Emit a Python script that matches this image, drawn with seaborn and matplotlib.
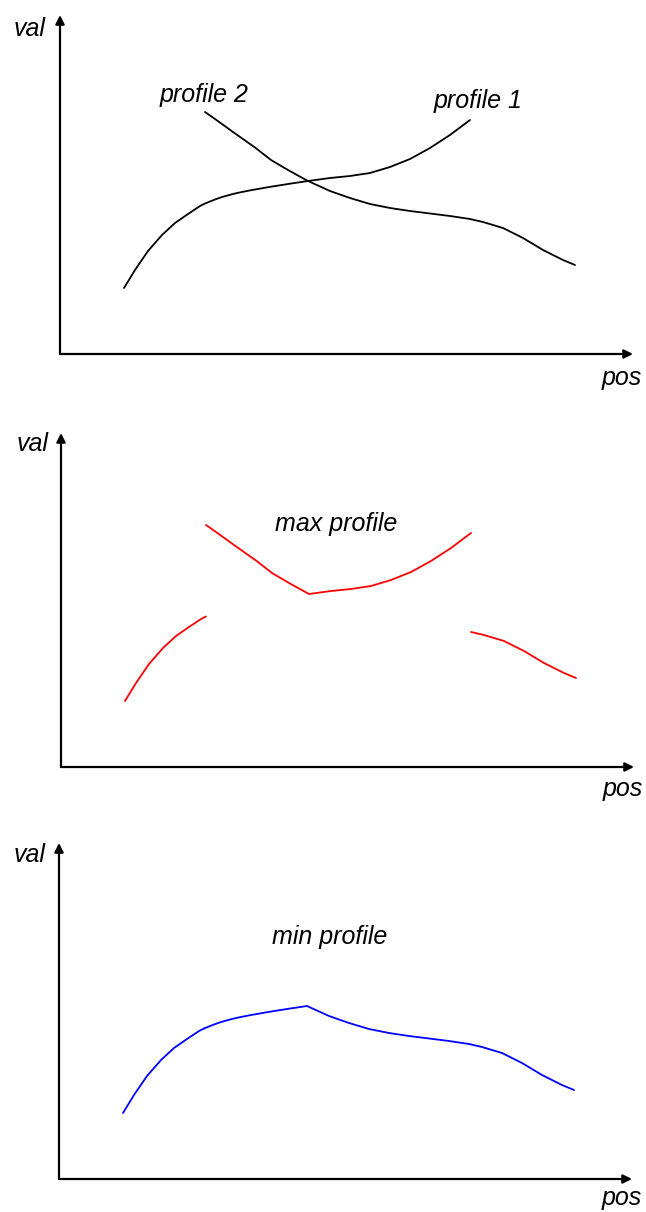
import matplotlib
matplotlib.use("Agg")
import matplotlib.pyplot as plt
import numpy as np
import pandas as pd
import seaborn as sns

# positions along the axis (pixels right of the val axis)
pos = [64, 75, 88, 102, 115, 128, 140, 145, 155, 162, 173, 178, 190, 195, 211, 228,
       248, 270, 290, 310, 330, 350, 370, 390, 410, 423, 443, 463, 483, 503, 515]

# profile values (pixels above the pos axis), NaN where a profile is undefined
profile_1 = [66, 84, 103, 119, 131, 140, 148, 150.5, 154.5, 157, 160, 161.2, 163.6, 164.5,
             167.3, 170, 173, 176, 178, 181, 187, 195, 206, 219, 234,
             np.nan, np.nan, np.nan, np.nan, np.nan, np.nan]
profile_2 = [np.nan, np.nan, np.nan, np.nan, np.nan, np.nan, np.nan,
             242, 235, 230, 222, 218.5, 210, 206.5, 194, 184,
             173, 163, 156, 150, 146, 143, 140.5, 138, 135, 132, 126, 116, 104, 94, 89]

labels_top = ["profile 2", "profile 1"]
title_max = "max profile"
title_min = "min profile"


def combined(p1, p2, how):
    """Combine two profiles into segments: only p1 / both / only p2"""
    p1, p2 = np.asarray(p1, float), np.asarray(p2, float)
    x = np.asarray(pos, float)
    both = ~np.isnan(p1) & ~np.isnan(p2)
    first, last = np.where(both)[0][[0, -1]]
    func = np.fmax if how == "max" else np.fmin
    rows = []
    for i in range(first + 1):
        rows.append((x[i], p1[i], 0))
    for i in range(first, last + 1):
        rows.append((x[i], func(p1[i], p2[i]), 1))
    for i in range(last, len(x)):
        rows.append((x[i], p2[i], 2))
    return pd.DataFrame(rows, columns=["pos", "val", "seg"])


sns.set_theme(style="white")
plt.rcParams["font.family"] = ["Liberation Sans", "DejaVu Sans"]

fig = plt.figure(figsize=(6.46, 12.12), dpi=100)

# panel layout in pixels: top row, bottom row, origin x, origin y, axis height,
# val label (x, y), pos label (x, y)
panels = [
    (0, 404, 60, 354, 339, (30, 29), (622, 378)),
    (404, 808, 61, 767, 334, (33, 444), (623, 789)),
    (808, 1212, 59, 1179, 336, (30, 855), (622, 1198)),
]
axes = []
for top, bottom, ox, oy, h, val_xy, pos_xy in panels:
    ax = fig.add_axes([0, 1 - bottom / 1212, 1, (bottom - top) / 1212])
    ax.set_xlim(-ox, 646 - ox)
    ax.set_ylim(oy - bottom, oy - top)
    ax.axis("off")
    arrow = dict(arrowstyle="-|>", lw=1.6, color="black", mutation_scale=13,
                 shrinkA=0, shrinkB=0)
    ax.annotate("", xy=(573, 0), xytext=(0, 0), arrowprops=arrow)
    ax.annotate("", xy=(0, h), xytext=(0, 0), arrowprops=arrow)
    ax.text(val_xy[0] - ox, oy - val_xy[1], "val", style="italic", fontsize=18,
            color="black", ha="center", va="center")
    ax.text(pos_xy[0] - ox, oy - pos_xy[1], "pos", style="italic", fontsize=18,
            color="black", ha="center", va="center")
    axes.append(ax)

line_kw = dict(lw=1.3, sort=False, estimator=None, solid_joinstyle="round")

# panel 1: the two profiles
df1 = pd.DataFrame({"pos": pos, "val": profile_1}).dropna()
df2 = pd.DataFrame({"pos": pos, "val": profile_2}).dropna()
sns.lineplot(data=df1, x="pos", y="val", ax=axes[0], color="black", **line_kw)
sns.lineplot(data=df2, x="pos", y="val", ax=axes[0], color="black", **line_kw)
axes[0].text(144, 259, labels_top[0], style="italic", fontsize=18, color="black",
             ha="center", va="center")
axes[0].text(418, 253, labels_top[1], style="italic", fontsize=18, color="black",
             ha="center", va="center")

# panel 2: max profile
dmax = combined(profile_1, profile_2, "max")
sns.lineplot(data=dmax, x="pos", y="val", units="seg", ax=axes[1], color="red", **line_kw)
axes[1].text(275, 243, title_max, style="italic", fontsize=18, color="black",
             ha="center", va="center")

# panel 3: min profile
dmin = combined(profile_1, profile_2, "min")
sns.lineplot(data=dmin, x="pos", y="val", units="seg", ax=axes[2], color="blue", **line_kw)
axes[2].text(271, 242, title_min, style="italic", fontsize=18, color="black",
             ha="center", va="center")

for ax in axes:
    ax.set_xlabel("")
    ax.set_ylabel("")

fig.savefig("out.png", dpi=100)
